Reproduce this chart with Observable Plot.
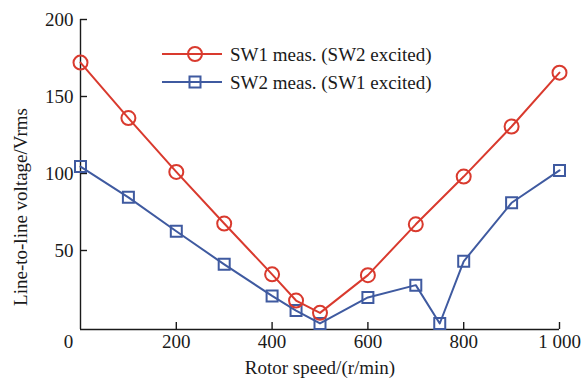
<!DOCTYPE html>
<html>
<head>
<meta charset="utf-8">
<script src="https://cdn.jsdelivr.net/npm/d3@7"></script>
<script src="https://cdn.jsdelivr.net/npm/@observablehq/plot@0.6"></script>
<style>
  html, body { margin: 0; padding: 0; background: #fff; }
  #chart svg { display: block; }
</style>
</head>
<body>
<div id="chart"></div>
<script>
const speeds1 = [0, 100, 200, 300, 400, 450, 500, 600, 700, 800, 900, 1000];
const sw1Volts = [172, 136, 101, 67.5, 34.5, 17.5, 9.5, 34, 67, 98, 130.5, 165.5];
const speeds2 = [0, 100, 200, 300, 400, 450, 500, 600, 700, 750, 800, 900, 1000];
const sw2Volts = [104.5, 84.5, 62.5, 41, 20.5, 11, 2.6, 19.5, 27.5, 2.6, 43, 81, 102];
const seriesNames = ["SW1 meas. (SW2 excited)", "SW2 meas. (SW1 excited)"];
const xTitle = "Rotor speed/(r/min)";
const yTitle = "Line-to-line voltage/Vrms";
const xTicks = [200, 400, 600, 800, 1000];
const yTicks = [50, 100, 150, 200];

const RED = "#d93a2e", BLUE = "#3f5aa0", INK = "#1a1a1a";
const font = "'Liberation Serif', 'Times New Roman', serif";

const d1 = speeds1.map((s, i) => ({s, v: sw1Volts[i]}));
const d2 = speeds2.map((s, i) => ({s, v: sw2Volts[i]}));
const fmt = d => d >= 1000 ? String(d).replace(/(\d)(\d{3})$/, "$1 $2") : String(d);
const blank = () => "";

const chart = Plot.plot({
  width: 581,
  height: 382,
  marginLeft: 80,
  marginRight: 22,
  marginTop: 19,
  marginBottom: 53,
  style: {fontFamily: font, fontSize: "19px", color: INK, background: "#fff"},
  x: {domain: [0, 1000]},
  y: {domain: [-1.3, 200]},
  marks: [
    Plot.ruleX([0], {stroke: INK, strokeWidth: 1.4}),
    Plot.ruleY([-1.3], {stroke: INK, strokeWidth: 1.4}),
    // inward tick marks
    Plot.axisX(xTicks, {tickSize: 7, dy: -7, tickFormat: blank, stroke: INK, strokeWidth: 1.4, label: null}),
    Plot.axisY(yTicks, {tickSize: 7, dx: 7, tickFormat: blank, stroke: INK, strokeWidth: 1.4, label: null}),
    // tick labels and titles
    Plot.axisX(xTicks, {tickSize: 0, tickPadding: 5, tickFormat: fmt, fill: INK, label: xTitle, labelAnchor: "center", labelOffset: 44, labelArrow: "none"}),
    Plot.axisX([0], {tickSize: 0, tickPadding: 5, dx: -12, fill: INK, label: null}),
    Plot.axisY(yTicks, {tickSize: 0, tickPadding: 7, fill: INK, label: null}),
    Plot.line(d2, {x: "s", y: "v", stroke: BLUE, strokeWidth: 2}),
    Plot.dot(d2, {x: "s", y: "v", symbol: "square", r: 6.2, stroke: BLUE, strokeWidth: 2, fill: "none"}),
    Plot.line(d1, {x: "s", y: "v", stroke: RED, strokeWidth: 2}),
    Plot.dot(d1, {x: "s", y: "v", symbol: "circle", r: 7, stroke: RED, strokeWidth: 2, fill: "none"})
  ]
});

document.getElementById("chart").appendChild(chart);

const svg = d3.select(chart);
// y-axis title, placed as in the reference (centred a little below the frame centre)
svg.append("text")
  .attr("font-family", font).attr("font-size", 19).attr("fill", INK)
  .attr("text-anchor", "middle").attr("dy", "0.35em")
  .attr("transform", "translate(20,207) rotate(-90)")
  .text(yTitle);

// Legend inside the plot frame
const legend = svg.append("g")
  .attr("font-family", font).attr("font-size", 19).attr("fill", INK).attr("text-anchor", "start");
const items = [
  {name: seriesNames[0], color: RED, sym: "circle"},
  {name: seriesNames[1], color: BLUE, sym: "square"}
];
items.forEach((it, i) => {
  const y = 54 + i * 28;
  const g = legend.append("g").attr("transform", `translate(162,${y})`);
  g.append("line").attr("x1", 0).attr("x2", 60).attr("y1", 0).attr("y2", 0)
    .attr("stroke", it.color).attr("stroke-width", 2);
  if (it.sym === "circle") {
    g.append("circle").attr("cx", 33).attr("cy", 0).attr("r", 7)
      .attr("fill", "none").attr("stroke", it.color).attr("stroke-width", 2);
  } else {
    g.append("rect").attr("x", 27.5).attr("y", -5.5).attr("width", 11).attr("height", 11)
      .attr("fill", "none").attr("stroke", it.color).attr("stroke-width", 2);
  }
  g.append("text").attr("x", 68).attr("y", 0).attr("dy", "0.35em").text(it.name);
});
</script>
</body>
</html>
